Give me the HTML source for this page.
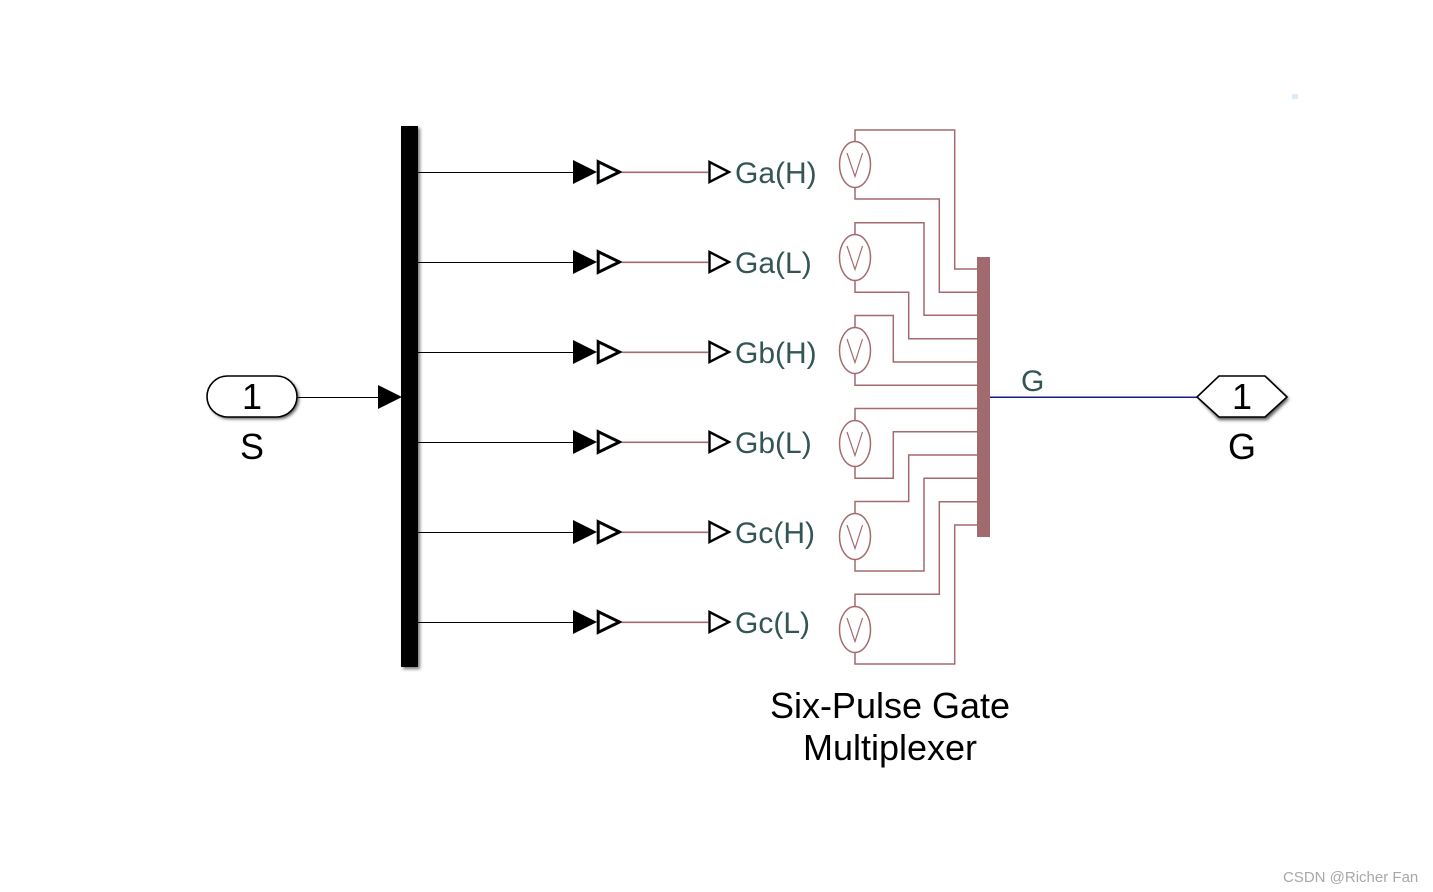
<!DOCTYPE html>
<html>
<head>
<meta charset="utf-8">
<style>
html,body{margin:0;padding:0;background:#fff;width:1433px;height:892px;overflow:hidden}
svg{display:block}
text{font-family:"Liberation Sans",Arial,sans-serif}
</style>
</head>
<body>
<svg width="1433" height="892" viewBox="0 0 1433 892" xmlns="http://www.w3.org/2000/svg">
<defs>
<filter id="sh" x="-20%" y="-20%" width="140%" height="140%"><feGaussianBlur stdDeviation="1.5"/></filter>
<g id="row">
  <line x1="418" y1="0.5" x2="575" y2="0.5" stroke="#000" stroke-width="1"/>
  <polygon points="573,-12 597,0 573,12" fill="#000"/>
  <polygon points="598.2,-10.3 619.5,0 598.2,10.3" fill="#fff" stroke="#000" stroke-width="3"/>
  <line x1="622" y1="0.3" x2="708" y2="0.3" stroke="#a56a70" stroke-width="1.6"/>
  <polygon points="709.5,-10 729,0 709.5,10" fill="#fff" stroke="#000" stroke-width="2.4"/>
</g>
<g id="v">
  <ellipse cx="855" cy="0" rx="15.5" ry="23" fill="#fff" stroke="#a46a6f" stroke-width="1.5"/>
  <path d="M847,-11.5 L855,12 L862.5,-11.5" fill="none" stroke="#a46a6f" stroke-width="1.2"/>
</g>
</defs>
<rect width="1433" height="892" fill="#fff"/>
<rect x="1292" y="94" width="6" height="5" fill="#d8ecfb"/>

<!-- inport -->
<rect x="209" y="378" width="90" height="41" rx="20.5" fill="#555" filter="url(#sh)"/>
<rect x="207" y="376" width="90" height="41" rx="20.5" fill="#fff" stroke="#000" stroke-width="1.6"/>
<text x="252" y="409" font-size="36" text-anchor="middle" fill="#000">1</text>
<text x="252" y="459" font-size="36" text-anchor="middle" fill="#000">S</text>
<line x1="298" y1="397.5" x2="380" y2="397.5" stroke="#000" stroke-width="1"/>
<polygon points="378,385 402,397 378,409" fill="#000"/>

<!-- demux -->
<rect x="403" y="128" width="17" height="541" fill="#777" filter="url(#sh)"/>
<rect x="401" y="126" width="17" height="541" fill="#000"/>

<!-- rows -->
<use href="#row" y="172"/>
<use href="#row" y="262"/>
<use href="#row" y="352"/>
<use href="#row" y="442"/>
<use href="#row" y="532"/>
<use href="#row" y="622"/>
<g font-size="30" fill="#335555">
<text x="735" y="183">Ga(H)</text>
<text x="735" y="273">Ga(L)</text>
<text x="735" y="363">Gb(H)</text>
<text x="735" y="453">Gb(L)</text>
<text x="735" y="543">Gc(H)</text>
<text x="735" y="633">Gc(L)</text>
</g>

<!-- wires -->
<g fill="none" stroke="#a46a6f" stroke-width="1.5">
<path d="M855,142 V130 H954.7 V269 H978"/>
<path d="M855,187 V199 H939.3 V292.3 H978"/>
<path d="M855,235 V222.7 H924 V315.3 H978"/>
<path d="M855,280 V292.3 H908.7 V338.7 H978"/>
<path d="M855,328 V315.5 H893.3 V362 H978"/>
<path d="M855,373 V385.3 H978"/>
<path d="M855,421 V408.5 H978"/>
<path d="M855,466 V478.3 H893.3 V431.7 H978"/>
<path d="M855,514 V501.5 H908.7 V455 H978"/>
<path d="M855,559 V571 H924 V478.3 H978"/>
<path d="M855,607 V594.3 H939.3 V501.7 H978"/>
<path d="M855,652 V664 H954.7 V525 H978"/>
</g>
<use href="#v" y="164.5"/>
<use href="#v" y="257.5"/>
<use href="#v" y="350.5"/>
<use href="#v" y="443.5"/>
<use href="#v" y="536.5"/>
<use href="#v" y="629.5"/>

<!-- mux -->
<rect x="977" y="257" width="13" height="280" fill="#a06a6e"/>
<line x1="990" y1="397.3" x2="1198" y2="397.3" stroke="#14208a" stroke-width="1.5"/>
<text x="1021" y="391" font-size="30" fill="#335555">G</text>

<!-- outport -->
<polygon points="1199,399 1219,378 1267,378 1289,399 1267,420 1219,420" fill="#555" filter="url(#sh)"/>
<polygon points="1197,397 1219,376 1265,376 1287,397 1265,417 1219,417" fill="#fff" stroke="#000" stroke-width="1.6"/>
<text x="1242" y="409" font-size="36" text-anchor="middle" fill="#000">1</text>
<text x="1242" y="459" font-size="36" text-anchor="middle" fill="#000">G</text>

<!-- title -->
<text x="890" y="718" font-size="36" text-anchor="middle" fill="#000">Six-Pulse Gate</text>
<text x="890" y="760" font-size="36" text-anchor="middle" fill="#000">Multiplexer</text>

<text x="1283" y="882" font-size="15" fill="#a8a8a8">CSDN @Richer Fan</text>
</svg>
</body>
</html>
